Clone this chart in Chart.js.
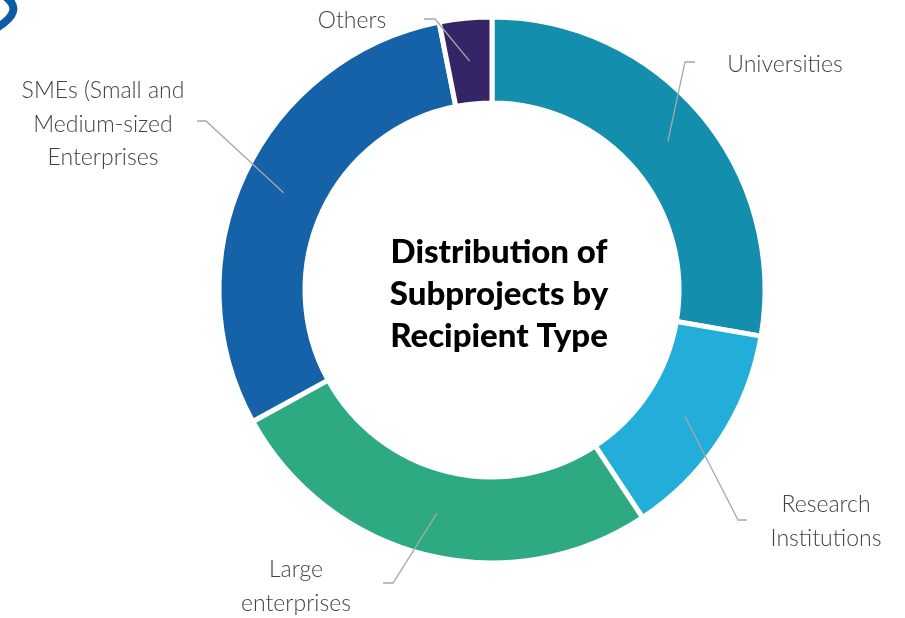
<!DOCTYPE html>
<html>
<head>
<meta charset="utf-8">
<script src="https://cdn.jsdelivr.net/npm/chart.js@4.4.0/dist/chart.umd.min.js"></script>
<style>
  html, body { margin: 0; padding: 0; background: #ffffff; }
  #wrap { width: 905px; height: 618px; position: relative; }
</style>
</head>
<body>
<div id="wrap"><canvas id="c" width="905" height="618"></canvas></div>
<script>
// ---- Data ----
const categories = ['Universities', 'Research Institutions', 'Large enterprises', 'SMEs (Small and Medium-sized Enterprises', 'Others'];
const shares = [27.7, 13.0, 26.3, 29.9, 3.1];
const labelLines = [
  ['Universities'],
  ['Research', 'Institutions'],
  ['Large', 'enterprises'],
  ['SMEs (Small and', 'Medium-sized', 'Enterprises'],
  ['Others']
];
const segmentColors = ['#138EAC', '#22AED9', '#2EAA82', '#1662A9', '#352567'];
const titleLines = ['Distribution of', 'Subprojects by', 'Recipient Type'];

// ---- Label layout (relative to chart centre) ----
const labelLayout = [
  { knee: [193, -228], tail: 10,  text: [293, -225] },
  { knee: [246, 230],  tail: 9,   text: [334, 215] },
  { knee: [-99, 293],  tail: -10, text: [-196, 280] },
  { knee: [-286, -169], tail: -9, text: [-389, -199] },
  { knee: [-57, -271], tail: -11, text: [-140, -269] }
];
const LINE_H = 33.5;
const labelFont = '300 23px "Lato", "Open Sans", sans-serif';
const titleFont = '900 33px "Lato", "Open Sans", sans-serif';

const leaderPlugin = {
  id: 'leaders',
  afterDatasetsDraw(chart) {
    const ctx = chart.ctx;
    const meta = chart.getDatasetMeta(0);
    let cx = 0, cy = 0;
    meta.data.forEach((arc, i) => {
      const p = arc.getProps(['x', 'y', 'startAngle', 'endAngle', 'innerRadius', 'outerRadius'], true);
      cx = p.x; cy = p.y;
      const mid = (p.startAngle + p.endAngle) / 2;
      const r = (p.innerRadius + p.outerRadius) / 2;
      const ax = p.x + Math.cos(mid) * r;
      const ay = p.y + Math.sin(mid) * r;
      const L = labelLayout[i];
      const kx = p.x + L.knee[0], ky = p.y + L.knee[1];
      ctx.save();
      ctx.strokeStyle = '#a8a8a8';
      ctx.lineWidth = 1.3;
      ctx.beginPath();
      ctx.moveTo(ax, ay);
      ctx.lineTo(kx, ky);
      ctx.lineTo(kx + L.tail, ky);
      ctx.stroke();
      ctx.fillStyle = '#424242';
      ctx.font = labelFont;
      ctx.textAlign = 'center';
      ctx.textBaseline = 'middle';
      labelLines[i].forEach((t, j) => {
        ctx.fillText(t, p.x + L.text[0], p.y + L.text[1] + j * LINE_H);
      });
      ctx.restore();
    });
    // centre title
    ctx.save();
    ctx.fillStyle = '#000000';
    ctx.font = titleFont;
    ctx.textAlign = 'center';
    ctx.textBaseline = 'middle';
    titleLines.forEach((t, j) => {
      ctx.fillText(t, cx + 7, cy - 38 + j * 42);
    });
    ctx.restore();
  },
  afterDraw(chart) {
    // partial logo mark in the top-left corner
    const ctx = chart.ctx;
    ctx.save();
    ctx.strokeStyle = '#0B5CA4';
    ctx.lineWidth = 8;
    ctx.lineJoin = 'round';
    ctx.beginPath();
    ctx.moveTo(6, -3);
    ctx.quadraticCurveTo(24, 11, -2, 27);
    ctx.stroke();
    ctx.restore();
  }
};

new Chart(document.getElementById('c'), {
  type: 'doughnut',
  data: {
    labels: categories,
    datasets: [{
      data: shares,
      backgroundColor: segmentColors,
      borderColor: '#ffffff',
      borderWidth: 5,
      hoverOffset: 0
    }]
  },
  options: {
    responsive: false,
    animation: false,
    radius: 273,
    cutout: '68.5%',
    layout: { padding: { left: 79, right: 0, top: 0, bottom: 38 } },
    plugins: {
      legend: { display: false },
      tooltip: { enabled: false }
    }
  },
  plugins: [leaderPlugin]
});
</script>
</body>
</html>
